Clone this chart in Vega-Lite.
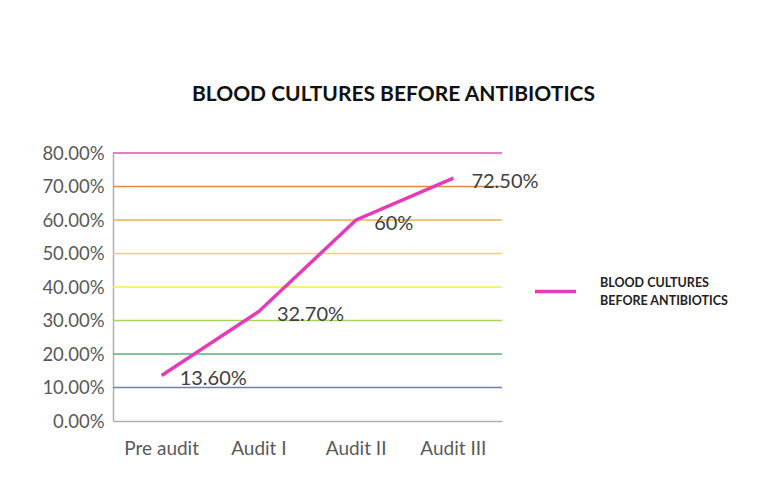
{
  "$schema": "https://vega.github.io/schema/vega-lite/v6.json",
  "width": 389,
  "height": 268,
  "autosize": "none",
  "padding": {"left": 113, "top": 153, "right": 277, "bottom": 59},
  "background": "white",
  "config": {
    "font": "Lato",
    "view": {"stroke": null},
    "axis": {"labelOverlap": false}
  },
  "title": {
    "text": "BLOOD CULTURES BEFORE ANTIBIOTICS",
    "font": "Lato",
    "fontSize": 21,
    "fontWeight": "bold",
    "color": "#111111",
    "anchor": "middle",
    "frame": "group",
    "dx": 86,
    "offset": 39
  },
  "datasets": {
    "series": [
      {"stage": "Pre audit", "value": 0.136, "label": "13.60%", "series": "BLOOD CULTURES BEFORE ANTIBIOTICS"},
      {"stage": "Audit I", "value": 0.327, "label": "32.70%", "series": "BLOOD CULTURES BEFORE ANTIBIOTICS"},
      {"stage": "Audit II", "value": 0.6, "label": "60%", "series": "BLOOD CULTURES BEFORE ANTIBIOTICS"},
      {"stage": "Audit III", "value": 0.725, "label": "72.50%", "series": "BLOOD CULTURES BEFORE ANTIBIOTICS"}
    ],
    "grid": [
      {"level": 0.1}, {"level": 0.2}, {"level": 0.3}, {"level": 0.4},
      {"level": 0.5}, {"level": 0.6}, {"level": 0.7}, {"level": 0.8}
    ]
  },
  "encoding": {
    "y": {
      "field": "value",
      "type": "quantitative",
      "scale": {"domain": [0, 0.8], "nice": false, "zero": true},
      "axis": {
        "title": null,
        "format": ".2%",
        "tickCount": 8,
        "labelOverlap": false,
        "labelFont": "Lato",
        "labelFontSize": 18.5,
        "labelColor": "#595959",
        "labelPadding": 9,
        "ticks": false,
        "grid": false,
        "domainColor": "#b0b0b0",
        "domainWidth": 1.5
      }
    }
  },
  "layer": [
    {
      "data": {"name": "grid"},
      "mark": {"type": "rule", "strokeWidth": 1.5},
      "encoding": {
        "y": {"field": "level", "type": "quantitative"},
        "stroke": {
          "field": "level",
          "type": "ordinal",
          "scale": {
            "domain": [0.1, 0.2, 0.3, 0.4, 0.5, 0.6, 0.7, 0.8],
            "range": ["#6f7ad0", "#52b27e", "#a8d65a", "#eef04e", "#f6d266", "#f2ae4e", "#e88648", "#d655b0"]
          },
          "legend": null
        }
      }
    },
    {
      "data": {"name": "series"},
      "mark": {"type": "line", "strokeWidth": 3.5},
      "encoding": {
        "x": {
          "field": "stage",
          "type": "nominal",
          "sort": ["Pre audit", "Audit I", "Audit II", "Audit III"],
          "scale": {"type": "band", "paddingInner": 0, "paddingOuter": 0},
          "axis": {
            "title": null,
            "labelAngle": 0,
            "labelFont": "Lato",
            "labelFontSize": 19,
            "labelColor": "#595959",
            "labelPadding": 18,
            "ticks": false,
            "domainColor": "#b0b0b0",
            "domainWidth": 1.5,
            "grid": false
          }
        },
        "color": {
          "field": "series",
          "type": "nominal",
          "scale": {"range": ["#e43cb8"]},
          "legend": {
            "title": null,
            "orient": "none",
            "legendX": 420,
            "legendY": 116,
            "symbolType": "stroke",
            "symbolSize": 1681,
            "symbolStrokeWidth": 3.5,
            "labelOffset": 22,
            "labelFont": "Lato",
            "labelFontSize": 12.5,
            "labelFontWeight": "bold",
            "labelColor": "#222222",
            "labelLimit": 300,
            "labelExpr": "['BLOOD CULTURES', 'BEFORE ANTIBIOTICS']",
            "encode": {"labels": {"update": {"lineHeight": {"value": 18}, "dy": {"value": -9}}}}
          }
        }
      }
    },
    {
      "data": {"name": "series"},
      "mark": {"type": "text", "align": "left", "baseline": "middle", "dx": 18, "dy": 4, "fontSize": 20, "color": "#404040", "font": "Lato"},
      "encoding": {
        "x": {"field": "stage", "type": "nominal", "sort": ["Pre audit", "Audit I", "Audit II", "Audit III"]},
        "text": {"field": "label"}
      }
    }
  ]
}
